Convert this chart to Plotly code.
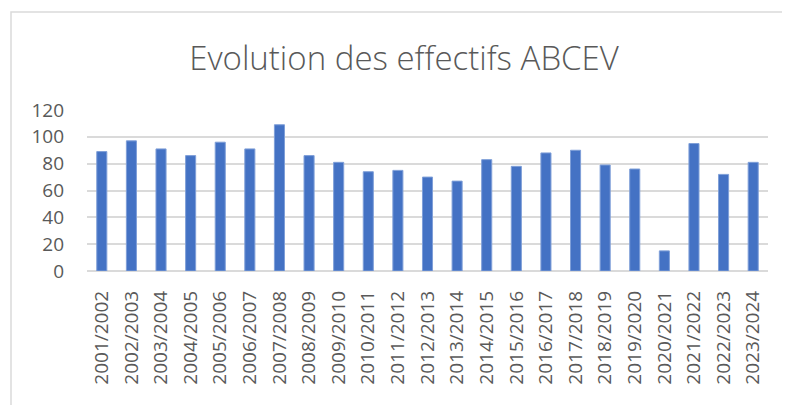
import plotly.graph_objects as go

seasons = ["2001/2002", "2002/2003", "2003/2004", "2004/2005", "2005/2006", "2006/2007",
           "2007/2008", "2008/2009", "2009/2010", "2010/2011", "2011/2012", "2012/2013",
           "2013/2014", "2014/2015", "2015/2016", "2016/2017", "2017/2018", "2018/2019",
           "2019/2020", "2020/2021", "2021/2022", "2022/2023", "2023/2024"]
effectifs = [89, 97, 91, 86, 96, 91, 109, 86, 81, 74, 75, 70, 67, 83, 78, 88, 90, 79, 76, 15, 95, 72, 81]
y_ticks = [0, 20, 40, 60, 80, 100, 120]

TEXT = "#595959"
GRID = "#dadada"
FONT = "Open Sans"

fig = go.Figure()
fig.add_trace(go.Bar(x=seasons, y=effectifs,
                     marker=dict(color="#4472C4", line=dict(width=1, color="#7f9fd8"))))

# page body has an 8px margin: layout coordinates are reference minus 8
OFF = 8
W, H = 790, 405
L, R, T = 87 - OFF, W - (768 - OFF), 110 - OFF
B = H - (271 - OFF)
pw, ph = W - L - R, H - T - B

fig.update_layout(
    width=W, height=H,
    margin=dict(l=L, r=R, t=T, b=B, autoexpand=False),
    paper_bgcolor="white", plot_bgcolor="white",
    bargap=0.66,
    showlegend=False,
    title=dict(text="Evolution des effectifs ABCEV", x=(404 - OFF) / W, xref="container", xanchor="center",
               y=1 - (58 - OFF) / H, yref="container", yanchor="middle",
               font=dict(family=FONT, size=33, color=TEXT, weight=300)),
    xaxis=dict(tickangle=-90, showgrid=False, showline=False, zeroline=False, ticks="", automargin=False,
               tickfont=dict(family=FONT, size=19, color=TEXT), ticklabelstandoff=15),
    yaxis=dict(range=[0, 120], tickvals=y_ticks, showgrid=True, gridcolor=GRID, gridwidth=2, automargin=False,
               zeroline=True, zerolinecolor=GRID, zerolinewidth=2, showline=False, ticks="",
               tickfont=dict(family=FONT, size=19, color=TEXT), ticklabelstandoff=22),
    shapes=[dict(type="rect", xref="paper", yref="paper",
                 x0=(11 - OFF - L) / pw, x1=(W + 10 - L) / pw,
                 y0=-(H + 10 - (T + ph)) / ph, y1=1 + (T - (12 - OFF)) / ph,
                 line=dict(color=GRID, width=1.5), fillcolor="rgba(0,0,0,0)", layer="below")],
)

fig.write_html("out.html")
